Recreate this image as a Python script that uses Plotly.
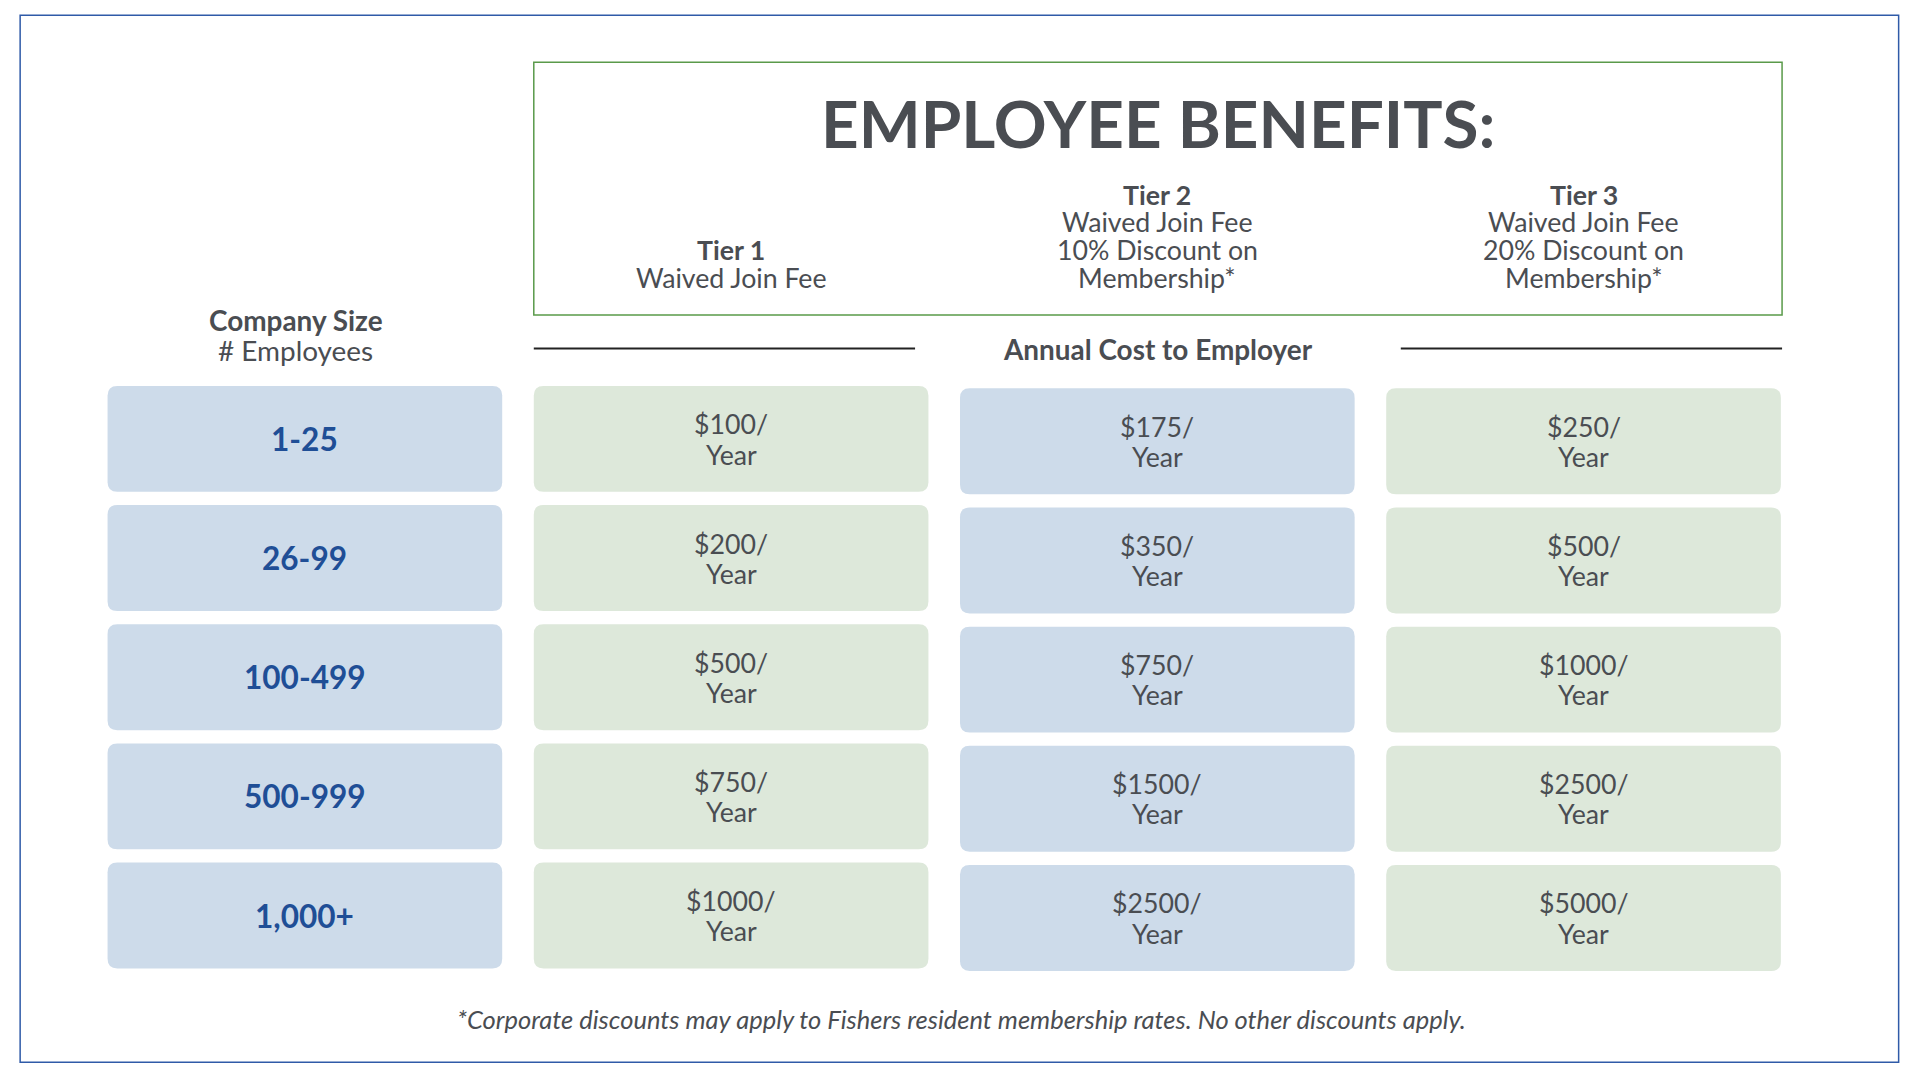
import plotly.graph_objects as go

# === Data ===
company_sizes = ["1-25", "26-99", "100-499", "500-999", "1,000+"]
tier1_cost = [100, 200, 500, 750, 1000]
tier2_cost = [175, 350, 750, 1500, 2500]
tier3_cost = [250, 500, 1000, 2500, 5000]
tier_titles = ["Tier 1", "Tier 2", "Tier 3"]
tier_desc = [
    ["Waived Join Fee"],
    ["Waived Join Fee", "10% Discount on", "Membership*"],
    ["Waived Join Fee", "20% Discount on", "Membership*"],
]

W, H = 1568, 884          # design units
FIG_W, FIG_H = 1904, 1064  # leave room for the page's body margin
S = FIG_W / W             # font scale
FONT = "Lato"
GRAY = "#4a4d52"
BLUE_TXT = "#1f4e96"
BLUE_BOX = "#cddbea"
GREEN_BOX = "#dde8da"

col_x = [82, 433, 784, 1135]
col_w = 325
row_y0 = 314
row_step = 99
row_h = 88


def rrect(x0, y0, x1, y1, r=8):
    return (f"M{x0+r},{y0} L{x1-r},{y0} Q{x1},{y0} {x1},{y0+r} "
            f"L{x1},{y1-r} Q{x1},{y1} {x1-r},{y1} L{x0+r},{y1} "
            f"Q{x0},{y1} {x0},{y1-r} L{x0},{y0+r} Q{x0},{y0} {x0+r},{y0} Z")


shapes = []
ann = []


def text(x, y, t, size, color=GRAY, bold=False, italic=False):
    if bold:
        t = f"<b>{t}</b>"
    if italic:
        t = f"<i>{t}</i>"
    ann.append(dict(x=x, y=y, xref="x", yref="y", text=t, showarrow=False,
                    font=dict(family=FONT, size=size * S, color=color),
                    xanchor="center", yanchor="middle"))


# borders
shapes.append(dict(type="rect", x0=10, y0=6, x1=1557, y1=876, xref="x", yref="y",
                   line=dict(color="#2f5aa8", width=1.5)))
shapes.append(dict(type="rect", x0=433, y0=45, x1=1461, y1=255, xref="x", yref="y",
                   line=dict(color="#5a9a4a", width=1.5)))
# lines around "Annual Cost"
for x0, x1 in [(433, 747), (1147, 1461)]:
    shapes.append(dict(type="line", x0=x0, x1=x1, y0=283, y1=283, xref="x", yref="y",
                       line=dict(color="#222222", width=2)))

text(947, 95, "EMPLOYEE BENEFITS:", 54, bold=True)
text(947, 283, "Annual Cost to Employer", 23, bold=True)
text(237, 259, "Company Size", 23, bold=True)
text(237, 284, "# Employees", 23)

for i, (title, desc) in enumerate(zip(tier_titles, tier_desc)):
    cx = col_x[i + 1] + col_w / 2
    lines = [title] + desc
    y_last = 224
    for j, ln in enumerate(lines):
        y = y_last - (len(lines) - 1 - j) * 23
        text(cx, y, ln, 22, bold=(j == 0))

tiers = [tier1_cost, tier2_cost, tier3_cost]
for r, size in enumerate(company_sizes):
    y0 = row_y0 + r * row_step
    shapes.append(dict(type="path", path=rrect(col_x[0], y0, col_x[0] + col_w, y0 + row_h),
                       xref="x", yref="y", fillcolor=BLUE_BOX, line=dict(width=0)))
    text(col_x[0] + col_w / 2, y0 + row_h / 2, size, 26, color=BLUE_TXT, bold=True)
    for c, costs in enumerate(tiers):
        off = 0 if c == 0 else 2
        x0 = col_x[c + 1]
        fill = BLUE_BOX if c == 1 else GREEN_BOX
        shapes.append(dict(type="path",
                           path=rrect(x0, y0 + off, x0 + col_w, y0 + off + row_h),
                           xref="x", yref="y", fillcolor=fill, line=dict(width=0)))
        cy = y0 + off + row_h / 2
        text(x0 + col_w / 2, cy - 12, f"${costs[r]}/", 22)
        text(x0 + col_w / 2, cy + 13, "Year", 22)

text(785, 840, "*Corporate discounts may apply to Fishers resident membership rates. No other discounts apply.", 21, italic=True)

fig = go.Figure()
fig.update_layout(
    width=FIG_W, height=FIG_H, margin=dict(l=0, r=0, t=0, b=0),
    paper_bgcolor="white", plot_bgcolor="white",
    xaxis=dict(range=[0, W], visible=False, fixedrange=True),
    yaxis=dict(range=[H, 0], visible=False, fixedrange=True),
    shapes=shapes, annotations=ann, showlegend=False,
)
fig.write_html("out.html")
